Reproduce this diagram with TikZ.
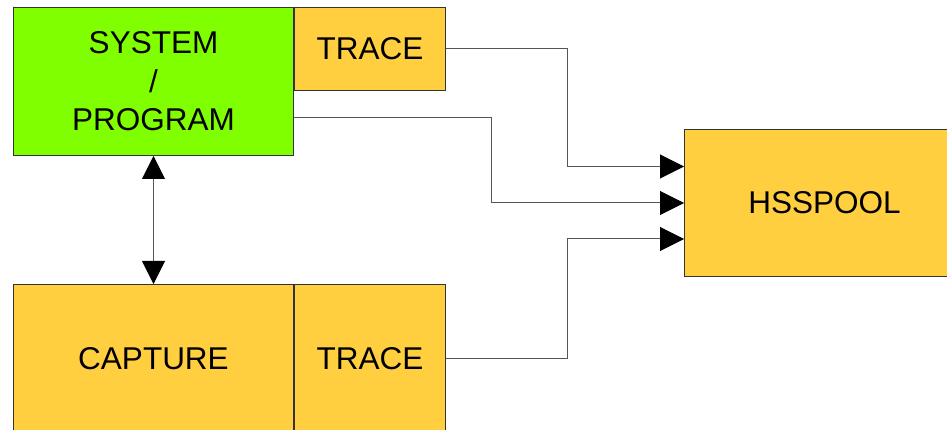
\documentclass[tikz,border=0pt]{standalone}
\usepackage{fontspec}
\setmainfont{Liberation Sans}
\usetikzlibrary{positioning,arrows.meta}

\definecolor{progfill}{HTML}{80FF00}
\definecolor{boxfill}{HTML}{FFCF40}
\definecolor{edgegrey}{HTML}{555555}

\tikzset{
  blockbox/.style={draw=black!80, line width=1pt, fill=boxfill, inner sep=0pt,
    font=\fontsize{31.5}{38.5}\selectfont, align=center},
  conn/.style={draw=edgegrey, line width=1pt,
    -{Triangle[length=24pt,width=24pt,color=black]}},
  biconn/.style={draw=edgegrey, line width=1pt,
    {Triangle[length=23pt,width=23pt,color=black]}-{Triangle[length=23pt,width=23pt,color=black]}}
}

\begin{document}
\begin{tikzpicture}[x=1pt,y=-1pt]
\clip (0,0) rectangle (947,430);
% nodes
\node[blockbox, fill=progfill, minimum width=280pt, minimum height=148pt, anchor=north west]
  (sys) at (13,7) {SYSTEM\\/\\PROGRAM};
\node[blockbox, minimum width=151pt, minimum height=83pt, right=0pt of sys.north east, anchor=north west]
  (tracetop) {TRACE};
\node[blockbox, minimum width=280pt, minimum height=148pt, below=128pt of sys.south west, anchor=north west]
  (cap) {CAPTURE};
\node[blockbox, minimum width=151pt, minimum height=148pt, right=0pt of cap.north east, anchor=north west]
  (tracebot) {TRACE};
\node[blockbox, minimum width=280pt, minimum height=147pt, anchor=north west]
  (hss) at (684,129) {HSSPOOL};

% ports
\coordinate (sysout) at ([yshift=-36pt]sys.east);
\coordinate (in1) at ([yshift=36.5pt]hss.west);
\coordinate (in3) at ([yshift=-36pt]hss.west);

% edges
\draw[biconn] (sys.south) -- (cap.north);
\draw[conn] (tracetop.east) -- ++(121,0) |- (in1);
\draw[conn] (sysout) -- ++(197,0) |- (hss.west);
\draw[conn] (tracebot.east) -- ++(121,0) |- (in3);
\end{tikzpicture}
\end{document}
